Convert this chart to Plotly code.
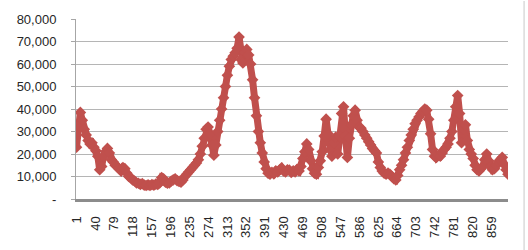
import plotly.graph_objects as go

# Values sampled every 4 categories (category 1, 5, 9, ...)
values = [
    23000, 33000, 38500, 35000, 31000, 28500, 26000, 24500, 25000, 23000,
    21500, 19000, 13000, 14500, 19000, 21000, 22500, 20500, 17500, 16500,
    15000, 14500, 13500, 12500, 14000, 13500, 11500, 10000, 9500, 8500,
    8000, 7200, 7000, 6500, 6800, 6200, 6000, 6300, 6000, 6400,
    6200, 6600, 6500, 7200, 9500, 9000, 7500, 7000, 7200, 8000,
    8500, 9000, 8200, 7800, 7500, 8500, 10000, 11000, 12000, 13000,
    14000, 15000, 16000, 17500, 20000, 23500, 27000, 31000, 32000, 29000,
    24000, 19500, 24000, 30000, 35000, 40000, 45000, 50000, 55000, 59000,
    62000, 63500, 65000, 67000, 72000, 62000, 60500, 65000, 66500, 64000,
    60000, 53000, 45000, 37000, 30000, 25000, 20500, 16500, 13500, 11500,
    11000, 11800, 11200, 12500, 12000, 13000, 13800, 12500, 12000, 13000,
    12800, 11800, 12500, 12000, 13200, 12500, 14500, 18000, 21000, 24500,
    22000, 17000, 13500, 11500, 11000, 14000, 17000, 21000, 28000, 35500,
    29000, 22000, 19000, 25000, 27500, 20000, 28000, 38000, 41000, 28000,
    18500, 27000, 33000, 37000, 39500, 35000, 32000, 31500, 30000, 28500,
    27000, 25500, 24000, 22500, 21500, 20500, 16500, 14000, 12500, 11500,
    11000, 11500, 11000, 10000, 9000, 8500, 10500, 13000, 15000, 17500,
    20500, 23000, 26000, 28500, 31000, 33500, 35000, 36500, 38000, 39000,
    40000, 39500, 35500, 29000, 22000, 19000, 18500, 19500, 19000, 20500,
    22000, 23000, 24500, 27000, 30000, 35000, 41000, 46000, 38000, 25000,
    31000, 33000, 26000, 22000, 20000, 18000, 15000, 13000, 12500, 13500,
    14500, 17500, 20000, 17000, 14500, 13000, 13500, 15000, 16500, 17500,
    18500, 15500, 13000, 11000,
]
step = 4
categories = [1 + step * i for i in range(len(values))]
n_categories = 893

x_tick_vals = list(range(1, 860, 39))
x_tick_text = [str(v) for v in x_tick_vals]
y_tick_vals = [0, 10000, 20000, 30000, 40000, 50000, 60000, 70000, 80000]
y_tick_text = ["-", "10,000", "20,000", "30,000", "40,000", "50,000",
               "60,000", "70,000", "80,000"]

color = "#C0504D"
font = dict(family="Liberation Sans, Arial, sans-serif", size=13, color="#262626")

fig = go.Figure(
    go.Scatter(
        x=categories,
        y=values,
        mode="lines+markers",
        line=dict(color=color, width=7),
        marker=dict(symbol="diamond", size=9, color=color, line=dict(width=0)),
        hoverinfo="skip",
    )
)

fig.update_layout(
    width=528,
    height=250,
    margin=dict(l=76, r=20, t=13, b=48),
    paper_bgcolor="white",
    plot_bgcolor="white",
    showlegend=False,
    font=font,
    xaxis=dict(
        range=[0, n_categories],
        tickmode="array",
        tickvals=x_tick_vals,
        ticktext=x_tick_text,
        tickangle=-90,
        showgrid=False,
        zeroline=False,
        showline=True,
        linecolor="#8c8c8c",
        linewidth=3,
        ticks="",
        ticklabelstandoff=9,
        tickfont=font,
    ),
    yaxis=dict(
        range=[0, 80000],
        tickmode="array",
        tickvals=y_tick_vals,
        ticktext=y_tick_text,
        showgrid=True,
        gridcolor="#b5b5b5",
        gridwidth=1,
        zeroline=False,
        showline=True,
        linecolor="#a6a6a6",
        linewidth=1,
        ticks="outside",
        ticklen=4,
        tickcolor="#a6a6a6",
        ticklabelstandoff=12,
        tickfont=font,
    ),
    shapes=[
        dict(type="line", xref="paper", yref="paper", x0=1.0372, x1=1.0372,
             y0=-0.3, y1=1.1, line=dict(color="#c8c8c8", width=1)),
    ],
)

fig.write_html("out.html")
